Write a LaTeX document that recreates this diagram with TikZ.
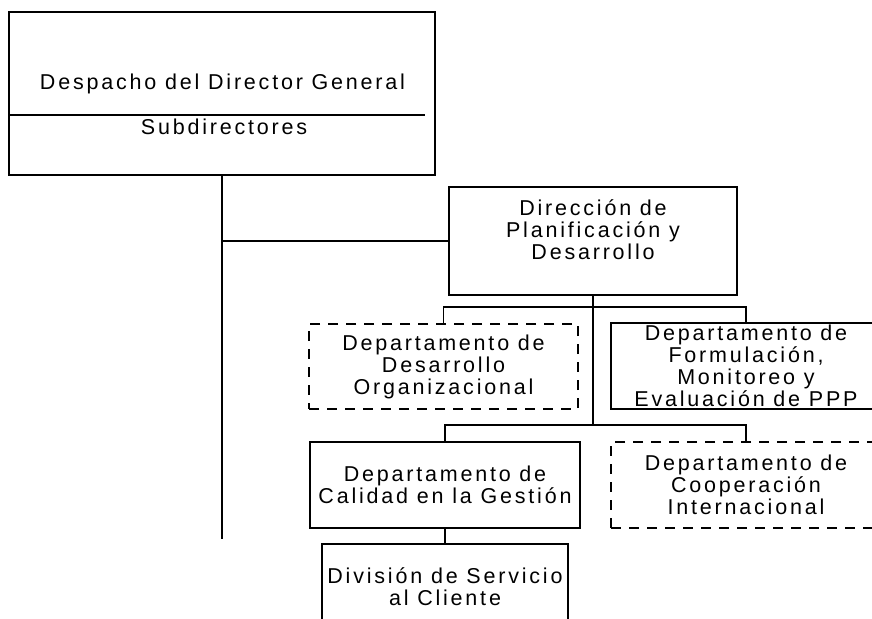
\documentclass[tikz,border=0pt]{standalone}
\usepackage{fontspec}
\setmainfont{Liberation Sans}[LetterSpace=13]
\usetikzlibrary{calc}
\begin{document}
\begin{tikzpicture}[x=1pt,y=-1pt,
  txt/.style={font=\fontsize{21.5}{22}\selectfont},
  box/.style={draw, line width=1.4pt, inner sep=0pt, align=center, txt},
  dbox/.style={box, dash pattern=on 10pt off 8pt},
  lbl/.style={inner sep=0pt, txt},
  conn/.style={line width=1.4pt}]
\useasboundingbox (0,0) rectangle (872,618);
\fill[white] (0,0) rectangle (872,618);
\clip (0,0) rectangle (872,618);
% top box
\node[box, minimum width=426pt, minimum height=163pt] (dg) at (222,93.5) {};
\node[lbl] (dgt) at (222.5,84) {Despacho del Director General};
\node[lbl] (sub) at (224,127) {Subdirectores};
\coordinate (divL) at (9,115);
\coordinate (divR) at (425,115);
\draw[conn] (divL) -- (divR);
% boxes
\node[box, minimum width=288pt, minimum height=108pt] (planif) at (593,241) {Dirección de\\Planificación y\\Desarrollo\\\mbox{}};
\node[dbox, minimum width=269pt, minimum height=85pt] (desorg) at (443.5,366.5) {Departamento de\\Desarrollo\\Organizacional};
\node[box, minimum width=270pt, minimum height=86pt] (fppp) at (746,366) {Departamento de\\Formulación,\\Monitoreo y\\Evaluación de PPP};
\node[box, minimum width=270pt, minimum height=86pt] (cal) at (445,485) {Departamento de\\Calidad en la Gestión};
\node[dbox, minimum width=270pt, minimum height=86pt] (coop) at (746,485) {Departamento de\\Cooperación\\Internacional};
\node[box, minimum width=246pt, minimum height=86pt] (div) at (445,587) {División de Servicio\\al Cliente};
% connectors
\coordinate (tend) at (222,539);
\coordinate (bus1) at (593,307);
\coordinate (bus2) at (593,425);
\draw[conn] (dg.south) -- (tend);
\draw[conn] (planif.west -| dg.south) -- (planif.west);
\draw[conn] (planif.south) -- (bus2);
\draw[conn] (desorg.north) |- (bus1) -| (fppp.north);
\draw[conn] (cal.north) |- (bus2) -| (coop.north);
\draw[conn] (cal.south) -- (div.north);
\end{tikzpicture}
\end{document}
